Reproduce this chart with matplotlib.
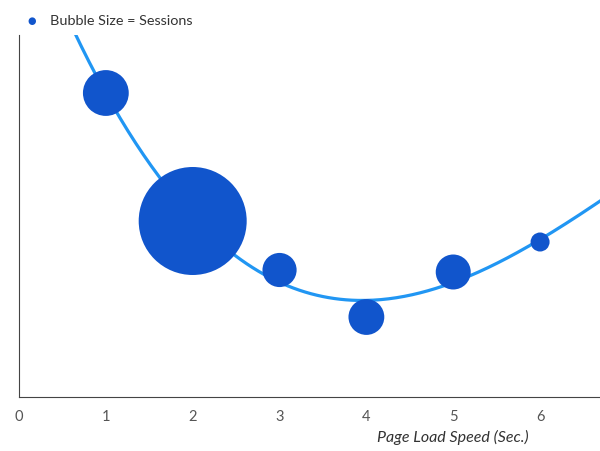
import numpy as np
import matplotlib.pyplot as plt

# page load speed (sec.) vs. a rate, bubble size = sessions
load_speed = [1, 2, 3, 4, 5, 6]
rate = [304, 176, 127, 80, 125, 155]
sessions = [1800, 10000, 1000, 1100, 1050, 310]
x_ticks = [0, 1, 2, 3, 4, 5, 6]

bubble_color = '#1155CC'
line_color = '#2196F3'

plt.rcParams['font.family'] = ['Lato', 'DejaVu Sans']

fig = plt.figure(figsize=(6, 4.52), dpi=100)
ax = fig.add_axes([19 / 600, 1 - 398 / 452, 1 - 19 / 600, 362 / 452])

# polynomial trend line through the bubbles
coef = np.polyfit(load_speed, rate, 3)
xs = np.linspace(0, 6.7, 300)
ax.plot(xs, np.polyval(coef, xs), color=line_color, lw=2.3, zorder=2)

max_d = 2 * 54 * 72 / 100  # diameter of the largest bubble in points
sizes = [s / max(sessions) * max_d ** 2 for s in sessions]
ax.scatter(load_speed, rate, s=sizes, color=bubble_color, edgecolors='none', zorder=3)

ax.set_xlim(0, 6.69)
ax.set_ylim(0, 362)
ax.set_xticks(x_ticks)
ax.set_yticks([])
ax.tick_params(axis='x', length=0, pad=9, labelsize=10.5, labelcolor='#555555')
for side in ['top', 'right']:
    ax.spines[side].set_visible(False)
for side in ['left', 'bottom']:
    ax.spines[side].set_color('#444444')
    ax.spines[side].set_linewidth(0.8)

ax.text(5, -39, 'Page Load Speed (Sec.)', ha='center', va='center', style='italic',
        fontsize=11.5, color='#333333', transform=ax.transData)

# legend
fig.text(32 / 600, 1 - 21 / 452, '\u25CF', color=bubble_color, fontsize=7,
         ha='center', va='center', family=['DejaVu Sans'])
fig.text(50 / 600, 1 - 21 / 452, 'Bubble Size = Sessions', color='#333333',
         fontsize=10.4, ha='left', va='center')

fig.savefig('out.png', dpi=100)
